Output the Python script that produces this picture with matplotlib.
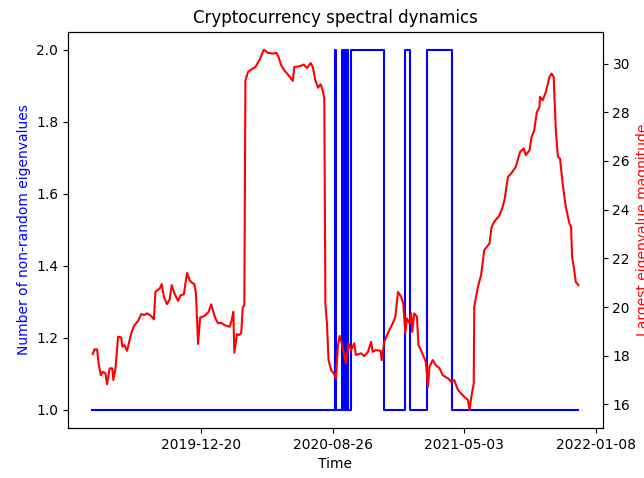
import pandas as pd
import matplotlib
matplotlib.use("Agg")
import matplotlib.pyplot as plt
import matplotlib.dates as mdates

# 데이터
start_date = "2019-05-27"

# 가장 큰 고유값 크기 (시작일로부터 경과 일수, 값)
red_day = [1, 4, 9, 12, 16, 20, 25, 28, 33, 38, 40, 44, 49, 55, 57, 61, 66, 74, 79, 87,
           93, 99, 104, 112, 117, 120, 128, 132, 136, 142, 147, 151, 156, 163, 168, 174, 180, 185, 191, 194,
           197, 201, 205, 213, 221, 226, 229, 234, 239, 245, 251, 261, 265, 268, 270, 275, 279, 283, 286, 289,
           291, 296, 302, 310, 318, 326, 334, 343, 350, 354, 359, 365, 373, 381, 384, 394, 402, 408, 415, 419,
           424, 429, 434, 438, 441, 443, 446, 449, 454, 459, 463, 467, 470, 475, 482, 487, 492, 498, 501, 511,
           517, 524, 530, 533, 539, 548, 550, 555, 563, 571, 576, 581, 587, 591, 595, 598, 603, 606, 608, 612,
           617, 620, 626, 634, 638, 641, 647, 653, 660, 666, 676, 682, 688, 695, 701, 707, 714, 717, 721, 725,
           726, 733, 739, 745, 755, 759, 764, 774, 780, 784, 790, 796, 805, 813, 820, 824, 831, 835, 840, 845,
           850, 851, 856, 862, 869, 873, 877, 881, 885, 889, 894, 900, 907, 910, 912, 916, 919, 924]
red_value = [18.07, 18.26, 18.26, 17.68, 17.20, 17.34, 17.27, 16.83, 17.48, 17.48, 17.00, 17.48, 18.78, 18.75, 18.37, 18.44, 18.20, 18.92, 19.22, 19.43,
             19.71, 19.67, 19.74, 19.63, 19.49, 20.62, 20.76, 20.94, 20.42, 20.12, 20.31, 20.90, 20.56, 20.25, 20.49, 20.52, 21.40, 21.10, 20.97, 20.95,
             20.56, 18.48, 19.57, 19.63, 19.80, 20.11, 19.87, 19.53, 19.33, 19.35, 19.26, 19.19, 19.46, 19.80, 18.12, 18.89, 18.85, 18.92, 19.98, 20.08,
             29.31, 29.66, 29.75, 29.86, 30.16, 30.57, 30.44, 30.41, 30.44, 30.27, 29.93, 29.72, 29.52, 29.29, 29.86, 29.89, 29.96, 29.82, 30.02, 29.86,
             29.31, 29.01, 29.15, 28.90, 28.56, 20.15, 19.33, 17.82, 17.41, 17.27, 17.07, 18.44, 18.81, 18.44, 17.68, 18.51, 18.23, 18.51, 18.03, 18.10,
             17.98, 18.16, 18.57, 18.16, 18.23, 18.20, 17.82, 18.57, 18.98, 19.33, 19.60, 20.62, 20.42, 20.15, 18.92, 19.53, 19.33, 19.74, 18.98, 19.74,
             19.60, 18.44, 18.16, 17.75, 16.72, 17.55, 17.82, 17.61, 17.48, 17.20, 17.07, 16.93, 17.00, 16.59, 16.45, 16.31, 16.18, 15.77, 16.38, 16.86,
             20.01, 20.83, 21.31, 22.34, 22.61, 23.29, 23.50, 23.77, 24.11, 24.46, 25.34, 25.48, 25.76, 26.37, 26.51, 26.24, 26.44, 26.99, 27.26, 28.01,
             28.22, 28.63, 28.49, 28.83, 29.45, 29.59, 29.45, 27.26, 26.17, 26.10, 25.07, 24.11, 23.43, 23.29, 22.06, 21.51, 21.03, 20.90]

# 비랜덤 고유값 개수 (값이 바뀌는 날)
blue_day = [0, 462, 464, 475, 476, 477, 478, 479, 480, 481, 482, 483, 484, 485, 486,
            491, 554, 595, 604, 636, 683, 924]
blue_value = [1, 2, 1, 2, 1, 2, 1, 2, 1, 2, 1, 2, 1, 2, 1,
              2, 1, 2, 1, 2, 1, 1]

x_ticks = ["2019-12-20", "2020-08-26", "2021-05-03", "2022-01-08"]

t0 = pd.Timestamp(start_date)
red_dates = t0 + pd.to_timedelta(red_day, unit="D")
blue_dates = t0 + pd.to_timedelta(blue_day, unit="D")

fig, ax = plt.subplots(figsize=(6.44, 4.78), dpi=100)
fig.subplots_adjust(left=0.1056, right=0.9359, top=0.9337, bottom=0.1046)

ax.plot(blue_dates, blue_value, color="blue", drawstyle="steps-post")
ax.set_ylabel("Number of non-random eigenvalues", color="blue")
ax.set_xlabel("Time")

ax2 = ax.twinx()
ax2.plot(red_dates, red_value, color="red")
ax2.set_ylabel("Largest eigenvalue magnitude", color="red")

ax.set_xticks(pd.to_datetime(x_ticks))
ax.xaxis.set_major_formatter(mdates.DateFormatter("%Y-%m-%d"))

plt.title("Cryptocurrency spectral dynamics")
fig.savefig("out.png", dpi=100)
